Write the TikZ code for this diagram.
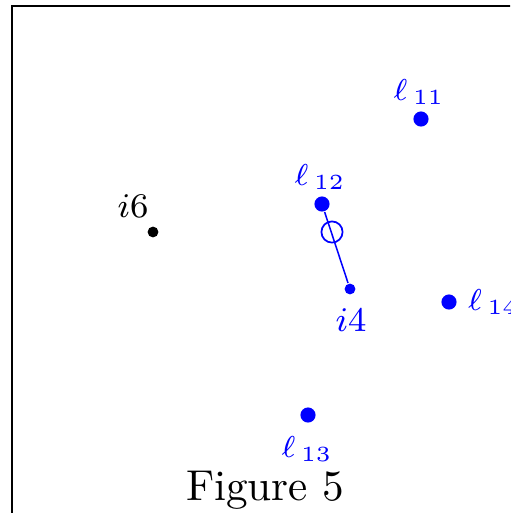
\documentclass[tikz,border=0pt]{standalone}
\tikzset{
  lmark/.style={circle, fill=blue, inner sep=0pt, minimum size=3.5pt},
  imark/.style={circle, fill=#1, inner sep=0pt, minimum size=2.5pt},
  hollow/.style={circle, draw=blue, line width=0.4pt, inner sep=0pt, minimum size=4.9pt},
  llabel/.style={text=blue, font=\scriptsize, inner sep=0pt},
  ilabel/.style={text=#1, font=\footnotesize, inner sep=0pt},
  link/.style={draw=blue, line width=0.35pt},
}

\begin{document}
\begin{tikzpicture}[x=0.2315pt, y=-0.2315pt]
\useasboundingbox (0,0) rectangle (510,513);
\clip (0,0) rectangle (510,513);
\draw[line width=0.45pt] (12,6) rectangle (530,530);
\node[lmark] (l11) at (421,119) {};
\node[llabel] (l11t) at (419,92) {$\ell_{\,11}$};
\node[lmark] (l12) at (322,204) {};
\node[llabel] (l12t) at (320,177) {$\ell_{\,12}$};
\node[hollow] (mid) at (332,232) {};
\node[imark=blue] (i4) at (350,289) {};
\node[ilabel=blue] (i4t) at (351,320) {$i4$};
\draw[link] (l12) -- (i4);
\node[lmark] (l14) at (449,302) {};
\node[llabel, anchor=west] (l14t) at (467,302) {$\ell_{\,14}$};
\node[lmark] (l13) at (308,415) {};
\node[llabel] (l13t) at (307,449) {$\ell_{\,13}$};
\node[imark=black] (i6) at (153,232) {};
\node[ilabel=black] (i6t) at (133,206) {$i6$};
\node[inner sep=0pt] (cap) at (265,490) {Figure 5};
\end{tikzpicture}
\end{document}
